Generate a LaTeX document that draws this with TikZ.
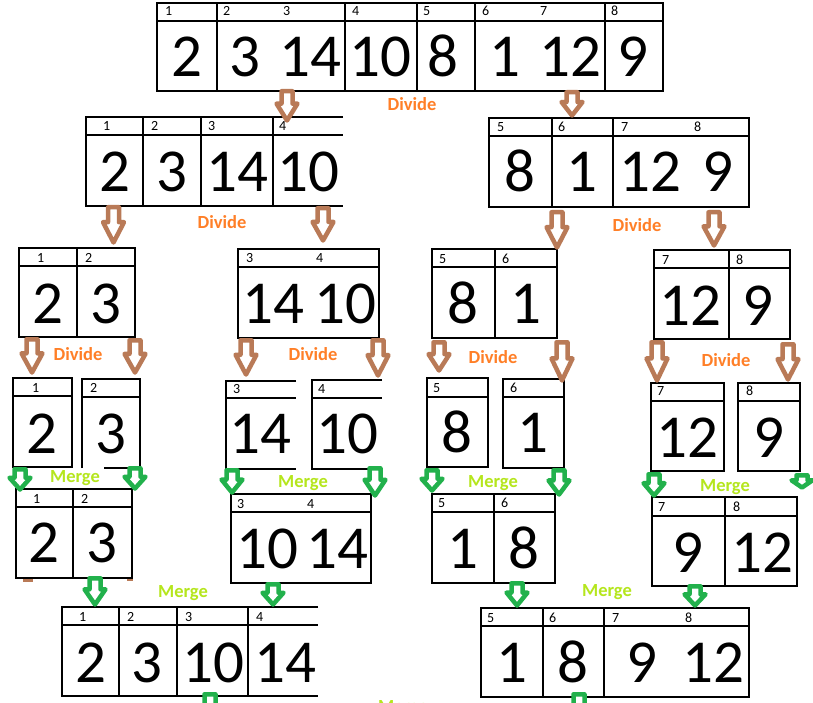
\documentclass[tikz,border=0pt]{standalone}
\usepackage{fontspec}
\setmainfont{Carlito}
\definecolor{divorange}{HTML}{FF7F27}
\definecolor{mrglime}{HTML}{B5E61D}
\definecolor{arrbrown}{HTML}{B97A57}
\definecolor{arrgreen}{HTML}{22B14C}
\tikzset{
  cell/.style={draw=black, line width=1.5pt},
  idx/.style={font=\fontsize{14}{14}\selectfont, anchor=base west, inner sep=0pt},
  num/.style={font=\fontsize{61}{61}\selectfont, anchor=base, inner sep=0pt},
  divtxt/.style={font=\bfseries\fontsize{18.5}{18.5}\selectfont, text=divorange, anchor=base, inner sep=0pt},
  mrgtxt/.style={font=\bfseries\fontsize{18.5}{18.5}\selectfont, text=mrglime, anchor=base, inner sep=0pt},
  barrow/.style={draw=arrbrown, line width=4.5pt, line join=round, fill=white},
  garrow/.style={draw=arrgreen, line width=4.5pt, line join=round, fill=white}
}
\newcommand\darrow[4]{%
  \path[#1] ({#2-5.5},{#3+2.25}) -- ({#2-5.5},{#3+0.43*(#4-#3)}) -- ({#2-10.5},{#3+0.43*(#4-#3)})
   -- (#2,{#4-2.5}) -- ({#2+10.5},{#3+0.43*(#4-#3)}) -- ({#2+5.5},{#3+0.43*(#4-#3)})
   -- ({#2+5.5},{#3+2.25}) -- cycle;}
\newcommand\boxc[5]{% l t h b r : closed box with header
  \draw[cell] (#1,#2) rectangle (#5,#4); \draw[cell] (#1,#3) -- (#5,#3);}
\newcommand\boxo[5]{% l t h b r : box open on the right
  \draw[cell] (#5,#2) -- (#1,#2) -- (#1,#4) -- (#5,#4); \draw[cell] (#1,#3) -- (#5,#3);}
\newcommand\vdiv[3]{\draw[cell] (#1,#2) -- (#1,#3);}
\begin{document}
\begin{tikzpicture}[x=1pt,y=-1pt]
\useasboundingbox[fill=white] (0,0) rectangle (813,703);
\clip (0,0) rectangle (813,703);

% ---------- level 1 ----------
\boxc{157}{3}{21}{91}{663}
\foreach \x in {217,345,417,475,605} {\vdiv{\x}{3}{91}}
\node[idx] (a1) at (165,16) {1};
\node[idx] (a2) at (223,16) {2};
\node[idx] (a3) at (283,16) {3};
\node[idx] (a4) at (352,16) {4};
\node[idx] (a5) at (423,16) {5};
\node[idx] (a6) at (482,16) {6};
\node[idx] (a7) at (540,16) {7};
\node[idx] (a8) at (611,16) {8};
\node[num] (A1) at (187,77) {2};
\node[num] (A2) at (245,77) {3};
\node[num] (A3) at (310,77) {14};
\node[num] (A4) at (380,77) {10};
\node[num] (A5) at (443,77) {8};
\node[num] (A6) at (505,77) {1};
\node[num] (A7) at (570,77) {12};
\node[num] (A8) at (633,77) {9};
\node[divtxt] (d1) at (412,111) {Divide};

% ---------- level 2 ----------
\boxo{86}{117}{135}{206}{343}
\foreach \x in {143,201,273} {\vdiv{\x}{117}{206}}
\node[idx] (b1) at (103,131) {1};
\node[idx] (b2) at (151,131) {2};
\node[idx] (b3) at (208,131) {3};
\node[idx] (b4) at (279,131) {4};
\node[num] (B1) at (115,192) {2};
\node[num] (B2) at (172,192) {3};
\node[num] (B3) at (237,192) {14};
\node[num] (B4) at (308,192) {10};
\node[divtxt] (d2) at (222,229) {Divide};

\boxc{489}{118}{136}{207}{749}
\foreach \x in {552,613} {\vdiv{\x}{118}{207}}
\node[idx] (c5) at (497,132) {5};
\node[idx] (c6) at (558,132) {6};
\node[idx] (c7) at (621,132) {7};
\node[idx] (c8) at (694,132) {8};
\node[num] (C5) at (520,192) {8};
\node[num] (C6) at (582,192) {1};
\node[num] (C7) at (650,192) {12};
\node[num] (C8) at (718,192) {9};
\node[divtxt] (d3) at (637,232) {Divide};

% ---------- level 3 ----------
\boxc{19}{248}{266}{337}{135}
\vdiv{77}{248}{337}
\node[idx] (e1) at (37,262) {1};
\node[idx] (e2) at (85,262) {2};
\node[num] (E1) at (48,323) {2};
\node[num] (E2) at (106,323) {3};
\node[divtxt] (d4) at (78,360) {Divide};

\boxc{238}{249}{267}{338}{379}
\node[idx] (f3) at (246,262) {3};
\node[idx] (f4) at (316,262) {4};
\node[num] (F3) at (273,323) {14};
\node[num] (F4) at (345,323) {10};
\node[divtxt] (d5) at (313,360) {Divide};

\boxc{432}{249}{267}{338}{557}
\vdiv{495}{249}{338}
\node[idx] (g5) at (439,263) {5};
\node[idx] (g6) at (502,263) {6};
\node[num] (G5) at (463,323) {8};
\node[num] (G6) at (526,323) {1};
\node[divtxt] (d6) at (493,363) {Divide};

\boxc{654}{250}{268}{339}{790}
\vdiv{729}{250}{339}
\node[idx] (h7) at (662,264) {7};
\node[idx] (h8) at (736,264) {8};
\node[num] (H7) at (690,325) {12};
\node[num] (H8) at (758,325) {9};
\node[divtxt] (d7) at (726,366) {Divide};

% ---------- level 4 ----------
\boxc{13}{378}{396}{467}{72}
\node[idx] (i1) at (32,392) {1};
\node[num] (I1) at (42,453) {2};
\draw[cell] (82,468) -- (82,379) -- (140,379) -- (140,468) -- (104,468);
\draw[cell] (82,397) -- (140,397);
\node[idx] (j2) at (90,392) {2};
\node[num] (J2) at (111,453) {3};

\boxo{226}{381}{398}{469}{296}
\node[idx] (k3) at (233,393) {3};
\node[num] (K3) at (260,453) {14};
\boxo{312}{380}{398}{469}{382}
\node[idx] (l4) at (318,393) {4};
\node[num] (L4) at (347,453) {10};

\boxc{427}{378}{397}{467}{488}
\node[idx] (m5) at (433,392) {5};
\node[num] (M5) at (457,452) {8};
\boxc{503}{379}{397}{468}{564}
\node[idx] (n6) at (510,392) {6};
\node[num] (N6) at (533,452) {1};

\boxc{651}{383}{401}{471}{724}
\node[idx] (o7) at (657,395) {7};
\node[num] (O7) at (687,457) {12};
\boxc{738}{383}{401}{471}{800}
\node[idx] (p8) at (746,395) {8};
\node[num] (P8) at (769,457) {9};

\node[mrgtxt] (m1) at (75,482) {Merge};
\node[mrgtxt] (m2) at (303,487) {Merge};
\node[mrgtxt] (m3) at (493,487) {Merge};
\node[mrgtxt] (m4) at (725,491) {Merge};

% ---------- level 5 ----------
\boxc{16}{489}{507}{578}{132}
\vdiv{73}{489}{578}
\node[idx] (q1) at (33,503) {1};
\node[idx] (q2) at (81,503) {2};
\node[num] (Q1) at (44,562) {2};
\node[num] (Q2) at (102,562) {3};
\fill[arrbrown] (23,579) rectangle (33,582);
\fill[arrbrown] (127,579) rectangle (133,581);

\boxc{231}{494}{512}{583}{371}
\node[idx] (r3) at (237,508) {3};
\node[idx] (r4) at (307,508) {4};
\node[num] (R3) at (267,568) {10};
\node[num] (R4) at (337,568) {14};

\boxc{432}{494}{512}{583}{555}
\vdiv{494}{494}{583}
\node[idx] (s5) at (438,507) {5};
\node[idx] (s6) at (501,507) {6};
\node[num] (S5) at (463,568) {1};
\node[num] (S6) at (524,568) {8};

\boxc{652}{497}{516}{586}{797}
\vdiv{725}{497}{586}
\node[idx] (u7) at (658,511) {7};
\node[idx] (u8) at (733,511) {8};
\node[num] (U7) at (688,572) {9};
\node[num] (U8) at (762,572) {12};

\node[mrgtxt] (m5) at (183,597) {Merge};
\node[mrgtxt] (m6) at (607,596) {Merge};

% ---------- level 6 ----------
\boxo{62}{607}{625}{696}{318}
\foreach \x in {119,177,248} {\vdiv{\x}{607}{696}}
\node[idx] (v1) at (79,621) {1};
\node[idx] (v2) at (127,621) {2};
\node[idx] (v3) at (185,621) {3};
\node[idx] (v4) at (256,621) {4};
\node[num] (V1) at (91,682) {2};
\node[num] (V2) at (147,682) {3};
\node[num] (V3) at (213,682) {10};
\node[num] (V4) at (285,682) {14};

\boxc{481}{608}{626}{697}{749}
\foreach \x in {543,604} {\vdiv{\x}{608}{697}}
\node[idx] (w5) at (487,622) {5};
\node[idx] (w6) at (549,622) {6};
\node[idx] (w7) at (612,622) {7};
\node[idx] (w8) at (685,622) {8};
\node[num] (W5) at (512,682) {1};
\node[num] (W6) at (573,682) {8};
\node[num] (W7) at (642,682) {9};
\node[num] (W8) at (713,682) {12};

\node[mrgtxt, anchor=base west] (m7) at (378,712) {Merge};

% ---------- divide arrows ----------
\darrow{barrow}{287}{89}{123}
\darrow{barrow}{572}{90}{118}
\darrow{barrow}{113.5}{205}{245}
\darrow{barrow}{323}{206}{243}
\darrow{barrow}{557}{210}{250}
\darrow{barrow}{714}{210}{248}
\darrow{barrow}{32}{337}{375}
\darrow{barrow}{135}{338}{375}
\darrow{barrow}{246}{338}{377}
\darrow{barrow}{378}{338}{378}
\darrow{barrow}{439}{340}{373}
\darrow{barrow}{562}{340}{383}
\darrow{barrow}{657}{340}{383}
\darrow{barrow}{788}{342}{382}

% ---------- merge arrows ----------
\darrow{garrow}{20}{467}{492}
\darrow{garrow}{135}{466}{491}
\darrow{garrow}{232}{468}{495}
\darrow{garrow}{375}{466}{498}
\darrow{garrow}{432}{468}{493}
\darrow{garrow}{559}{468}{497}
\darrow{garrow}{654}{472}{498}
\darrow{garrow}{802}{473}{490}
\darrow{garrow}{95}{576}{607}
\darrow{garrow}{273}{582}{607}
\darrow{garrow}{517}{581}{608}
\darrow{garrow}{695}{584}{608}
\darrow{garrow}{210}{692}{725}
\darrow{garrow}{579}{692}{725}
\end{tikzpicture}
\end{document}
